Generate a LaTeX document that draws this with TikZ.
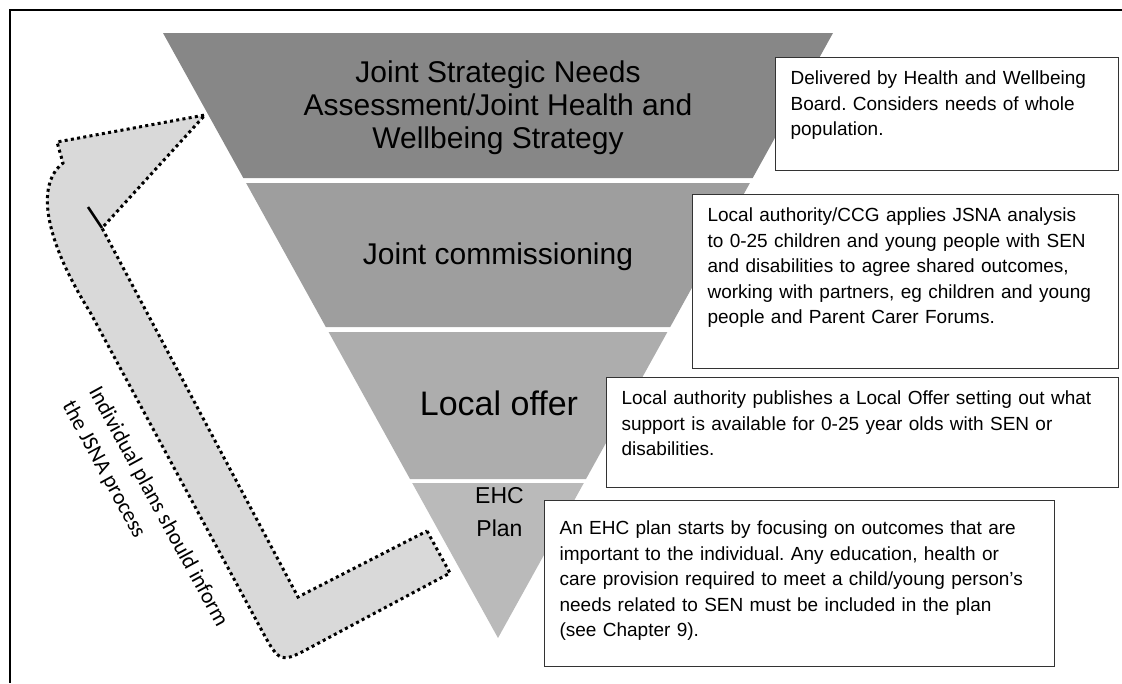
\documentclass[tikz,border=0pt]{standalone}
\usepackage{fontspec}
\setmainfont{Liberation Sans}
\newfontfamily\calibrifont{Carlito}
\frenchspacing

\begin{document}
\begin{tikzpicture}[x=1pt, y=-1pt]
        \tikzstyle{lvl} = [align=center, inner sep=0pt]
        \tikzstyle{note} = [draw=black!80, line width=1.2pt, fill=white, anchor=north west, align=left, inner xsep=15pt, inner ysep=13pt, text height=14pt, font=\fontsize{19}{25.5}\selectfont]
        \tikzstyle{dots} = [draw=black, line width=3pt, dash pattern=on 3pt off 3.3pt, fill=black!15]

        \useasboundingbox (0, 0) rectangle (1122, 683);
        \draw[line width=1.5pt] (1122, 10) -- (10, 10) -- (10, 683);

        \fill[black!47] (163, 33) -- (833, 33) -- (752.7, 178) -- (243.3, 178) -- cycle;
        \fill[black!38] (246.1, 183) -- (749.9, 183) -- (670.2, 327) -- (325.8, 327) -- cycle;
        \fill[black!32] (328.6, 332) -- (667.4, 332) -- (586, 479) -- (410, 479) -- cycle;
        \fill[black!27] (412.2, 483) -- (583.8, 483) -- (498, 638) -- cycle;

        \path[dots] (427, 531) -- (450, 573) -- (315, 645) .. controls (280, 664) .. (261, 629) -- (90, 312) .. controls (45, 240) and (35, 185) .. (63, 163) -- (57, 142) -- (205, 115) -- (102, 228) -- (298, 597) -- cycle;
        \draw[line width=2.5pt] (88, 207) -- (102, 228);

        \node[lvl, font=\fontsize{30}{33}\selectfont] (jsna) at (498, 107.5) {Joint Strategic Needs\\Assessment/Joint Health and\\Wellbeing Strategy};
        \node[lvl, font=\fontsize{30}{33}\selectfont] (commissioning) at (498, 257) {Joint commissioning};
        \node[lvl, font=\fontsize{34}{38}\selectfont] (local offer) at (499, 403.3) {Local offer};
        \node[lvl, font=\fontsize{23}{33}\selectfont] (ehc) at (499.5, 511.7) {EHC\\Plan};

        \node[note, text width=313pt, text depth=73pt] (jsna note) at (775, 57) {Delivered by Health and Wellbeing\\Board. Considers needs of whole\\population.};
        \node[note, text width=396pt, text depth=134pt] (commissioning note) at (692, 194) {Local authority/CCG applies JSNA analysis\\to 0-25 children and young people with SEN\\and disabilities to agree shared outcomes,\\working with partners, eg children and young\\people and Parent Carer Forums.};
        \node[note, text width=482pt, text depth=70pt] (local offer note) at (606, 377) {Local authority publishes a Local Offer setting out what\\support is available for 0-25 year olds with SEN or\\disabilities.};
        \node[note, text width=480pt, text height=21pt, text depth=119pt] (ehc note) at (544, 500) {An EHC plan starts by focusing on outcomes that are\\important to the individual. Any education, health or\\care provision required to meet a child/young person’s\\needs related to SEN must be included in the plan\\(see Chapter 9).};

        \node[align=left, inner sep=0pt, anchor=north west, rotate=-61.4, font=\calibrifont\fontsize{22}{30}\selectfont] (feedback) at (102, 384) {Individual plans should inform\\the JSNA process};
    \end{tikzpicture}
\end{document}
